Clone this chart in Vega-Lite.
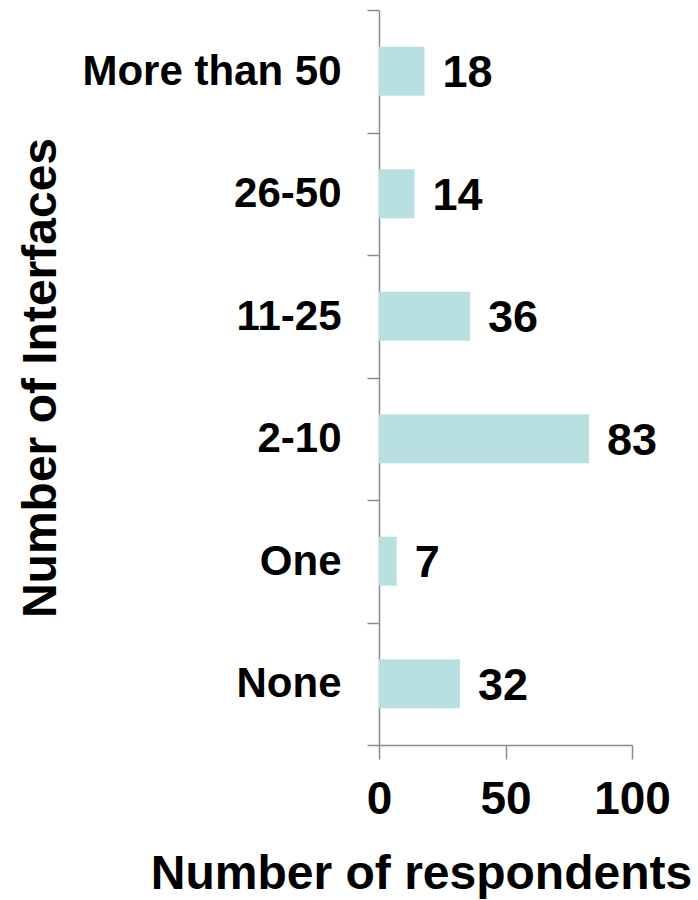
{
  "$schema": "https://vega.github.io/schema/vega-lite/v6.json",
  "width": 253,
  "height": 735,
  "autosize": {"type": "none"},
  "padding": {"left": 379, "top": 10, "right": 66, "bottom": 155},
  "background": "#ffffff",
  "config": {
    "view": {"stroke": null},
    "font": "Liberation Sans",
    "axis": {
      "domainColor": "#8c8c8c",
      "tickColor": "#8c8c8c",
      "domainWidth": 1.5,
      "tickWidth": 1.5,
      "grid": false,
      "labelFont": "Liberation Sans",
      "labelFontWeight": "bold",
      "labelColor": "#000000",
      "titleFont": "Liberation Sans",
      "titleFontWeight": "bold",
      "titleColor": "#000000"
    }
  },
  "data": {
    "values": [
      {"interfaces": "More than 50", "respondents": 18},
      {"interfaces": "26-50", "respondents": 14},
      {"interfaces": "11-25", "respondents": 36},
      {"interfaces": "2-10", "respondents": 83},
      {"interfaces": "One", "respondents": 7},
      {"interfaces": "None", "respondents": 32}
    ]
  },
  "encoding": {
    "y": {
      "field": "interfaces",
      "type": "nominal",
      "sort": ["More than 50", "26-50", "11-25", "2-10", "One", "None"],
      "scale": {"paddingInner": 0, "paddingOuter": 0},
      "axis": {
        "title": "Number of Interfaces",
        "titleFontSize": 48,
        "titleX": -314,
        "titleAlign": "center",
        "labelFontSize": 42,
        "labelPadding": 26,
        "labelLimit": 400,
        "tickSize": 12,
        "tickBand": "extent"
      }
    },
    "x": {
      "field": "respondents",
      "type": "quantitative",
      "scale": {"domain": [0, 100], "nice": false},
      "axis": {
        "title": "Number of respondents",
        "titleFontSize": 48,
        "titlePadding": 28,
        "titleX": 42,
        "titleAlign": "center",
        "labelFontSize": 46,
        "labelPadding": 18,
        "tickSize": 14,
        "values": [0, 50, 100],
        "labelFlush": false
      }
    }
  },
  "layer": [
    {"mark": {"type": "bar", "color": "#b8dfe2", "height": {"band": 0.4}}},
    {
      "mark": {
        "type": "text",
        "align": "left",
        "baseline": "middle",
        "dx": 18,
        "dy": 2,
        "fontSize": 45,
        "fontWeight": "bold",
        "color": "#000000"
      },
      "encoding": {"text": {"field": "respondents", "type": "quantitative"}}
    }
  ]
}
